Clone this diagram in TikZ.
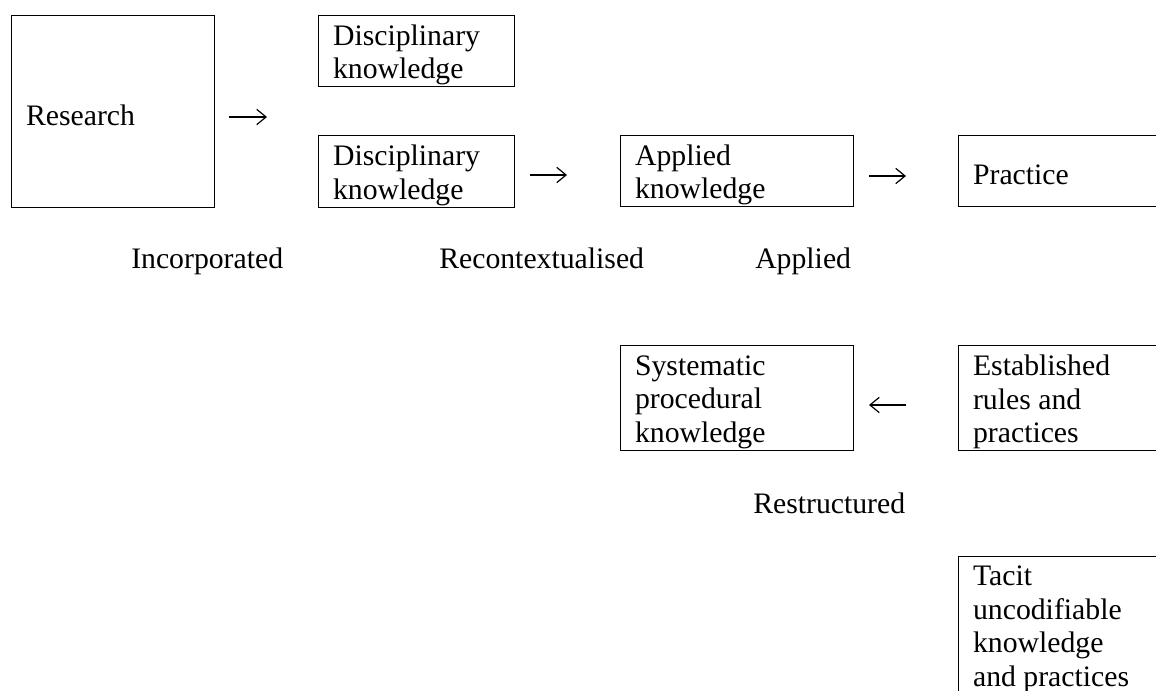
\documentclass[tikz,border=0pt]{standalone}
\usepackage{fontspec}
\setmainfont{Liberation Serif}
\usetikzlibrary{arrows.meta}
\newcommand\inbox[2]{\raisebox{-3pt}[\height][\depth]{\parbox{#1}{\raggedright #2}}}
\begin{document}
\begin{tikzpicture}[x=0.75pt,y=-0.75pt,
  every node/.style={font=\fontsize{22.3pt}{25.2pt}\selectfont, text=black},
  box/.style={draw=black, line width=0.8pt, rectangle, anchor=north west,
    inner xsep=10.9pt, inner ysep=0pt},
  lbl/.style={anchor=base west, inner sep=0pt},
  arr/.style={line width=0.9pt, -{Straight Barb[length=7pt,width=11.5pt,line width=0.9pt]}}]
\useasboundingbox (0,0) rectangle (1156,691);
\clip (0,0) rectangle (1156,691);
% boxes
\node[box, minimum height=144pt] (res) at (11,15) {\inbox{130.5pt}{Research}};
\node[box, minimum height=53.25pt] (d1) at (318,15) {\inbox{125.25pt}{Disciplinary\\knowledge}};
\node[box, minimum height=54pt] (d2) at (318,135) {\inbox{125.25pt}{Disciplinary\\knowledge}};
\node[box, minimum height=53.25pt] (app) at (620,135) {\inbox{153pt}{Applied\\knowledge}};
\node[box, minimum height=53.25pt] (prac) at (958,135) {\inbox{203.25pt}{Practice}};
\node[box, minimum height=78.75pt] (sys) at (620,345) {\inbox{153pt}{Systematic\\procedural\\knowledge}};
\node[box, minimum height=78.75pt] (est) at (958,345) {\inbox{203.25pt}{Established\\rules and\\practices}};
\node[box, minimum height=103pt] (tac) at (958,556) {\inbox{203.25pt}{Tacit\\uncodifiable\\knowledge\\and practices}};
% labels
\node[lbl] (l1) at (131,269) {Incorporated};
\node[lbl] (l2) at (439,269) {Recontextualised};
\node[lbl] (l3) at (755,269) {Applied};
\node[lbl] (l4) at (753,513) {Restructured};
% arrows
\coordinate (a1s) at (229,117); \coordinate (a1e) at (267,117);
\coordinate (a2s) at (530,175); \coordinate (a2e) at (567,175);
\coordinate (a3s) at (869,176); \coordinate (a3e) at (906,176);
\coordinate (a4s) at (906,405); \coordinate (a4e) at (869,405);
\draw[arr] (a1s) -- (a1e);
\draw[arr] (a2s) -- (a2e);
\draw[arr] (a3s) -- (a3e);
\draw[arr] (a4s) -- (a4e);
\end{tikzpicture}
\end{document}
